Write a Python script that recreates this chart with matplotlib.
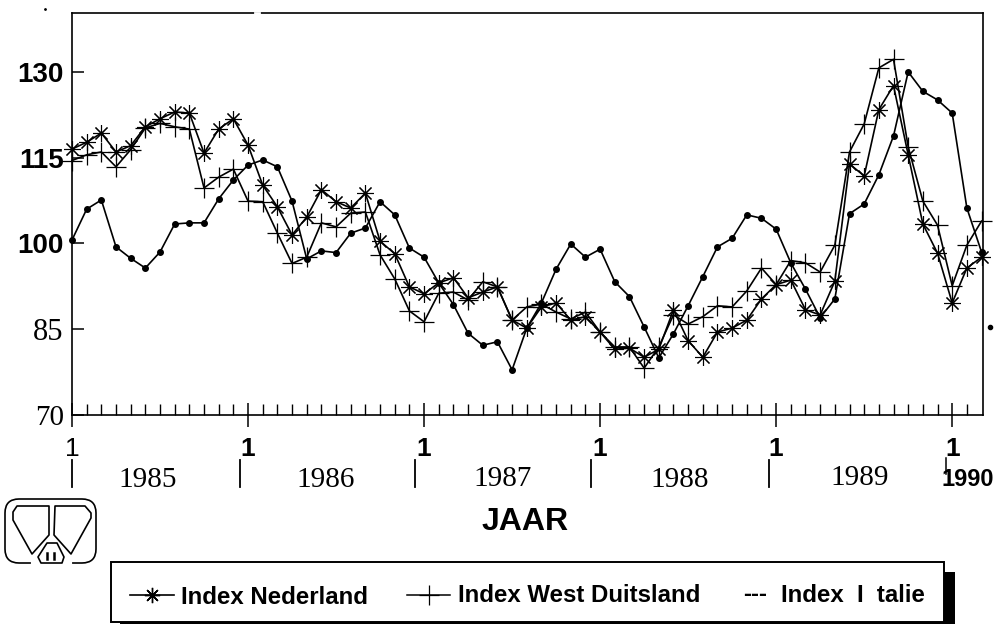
import matplotlib

matplotlib.use("Agg")
import matplotlib.pyplot as plt
from matplotlib.patches import FancyBboxPatch, Polygon, Rectangle

# values, one per month, Jan 1985 - Mar 1990
index_nederland = [
    116.5, 117.7, 119.3, 116.0, 117.1, 120.4, 121.8, 123.0, 122.8, 115.8, 120.0, 121.8,
    117.2, 110.2, 106.4, 101.5, 104.6, 109.4, 107.3, 106.2, 108.8, 100.4, 98.2, 92.4,
    91.2, 93.1, 94.0, 90.5, 91.5, 92.4, 86.6, 85.2, 88.9, 89.6, 86.6, 87.2,
    84.5, 81.5, 81.7, 80.1, 81.5, 88.4, 83.0, 80.1, 84.5, 85.2, 86.6, 90.3,
    92.8, 93.6, 88.4, 87.5, 93.4, 113.9, 111.8, 123.4, 127.6, 115.5, 103.4, 98.3,
    89.6, 95.7, 97.6,
]
index_west_duitsland = [
    114.5, 115.5, 116.0, 113.4, 116.4, 120.2, 121.0, 120.4, 120.0, 109.7, 111.6, 113.0,
    107.4, 107.3, 101.8, 96.5, 97.6, 103.6, 102.9, 105.3, 105.5, 98.0, 93.8, 88.2,
    86.3, 91.3, 91.5, 90.1, 93.3, 92.4, 86.6, 88.9, 89.4, 88.0, 86.8, 88.0,
    84.5, 81.9, 81.9, 78.2, 81.9, 87.5, 85.9, 87.2, 89.1, 88.9, 91.7, 95.7,
    92.8, 97.0, 96.6, 95.0, 99.7, 116.0, 120.9, 130.7, 132.2, 116.9, 107.4, 103.2,
    92.6, 99.7, 103.9,
]
index_italie = [
    100.6, 106.0, 107.6, 99.4, 97.4, 95.7, 98.5, 103.4, 103.6, 103.6, 107.8, 111.1,
    113.7, 114.6, 113.4, 107.4, 97.3, 98.7, 98.4, 101.8, 102.7, 107.3, 105.0, 99.2,
    97.6, 93.1, 89.3, 84.3, 82.2, 82.8, 77.9, 85.2, 89.6, 95.5, 99.9, 97.6,
    99.0, 93.3, 90.7, 85.4, 80.0, 84.2, 89.1, 94.2, 99.4, 100.9, 105.0, 104.4,
    102.5, 96.6, 92.0, 87.0, 90.3, 105.2, 106.9, 112.0, 118.8, 130.0, 126.6, 125.1,
    122.8, 106.2, 98.5,
]
months = list(range(len(index_nederland)))

y_ticks = [70, 85, 100, 115, 130]
y_label_sizes = [21, 22, 20, 20, 20]
jan_ticks = [0, 12, 24, 36, 48, 60]
jan_labels = ["1", "1", "1", "1", "1", "1"]
years = ["1985", "1986", "1987", "1988", "1989"]

W, H = 1001, 626
SERIF = "Liberation Serif"
SANS = "Liberation Sans"

fig = plt.figure(figsize=(W / 100, H / 100), dpi=100, facecolor="white")

# frame runs from x=72..983 and y=13..415 in pixels
ax = fig.add_axes([72 / W, 1 - 415 / H, (983 - 72) / W, (415 - 13) / H])
ax.set_xlim(0, 62.1)
ax.set_ylim(70, 140.3)

line_kw = dict(color="black", linewidth=1.2, clip_on=False)
ax.plot(months, index_italie, marker="o", markersize=4, **line_kw)
ax.plot(months, index_west_duitsland, marker="+", markersize=15, markeredgewidth=0.9, **line_kw)
ax.plot(months, index_nederland, marker=(8, 2, 0), markersize=12, markeredgewidth=0.8, **line_kw)

for s in ax.spines.values():
    s.set_linewidth(1.2)

ax.set_yticks(y_ticks)
ax.set_yticklabels([str(v) for v in y_ticks])
ax.tick_params(axis="y", direction="in", length=8.5, width=1.1, pad=6)
for lab, v, size in zip(ax.get_yticklabels(), y_ticks, y_label_sizes):
    lab.set_fontsize(size)
    if v >= 100:
        lab.set_fontfamily(SANS)
        lab.set_fontweight("bold")
    else:
        lab.set_fontfamily(SERIF)

ax.set_xticks(jan_ticks)
ax.set_xticklabels(jan_labels)
ax.set_xticks(months[:-1], minor=True)
ax.tick_params(axis="x", which="major", direction="inout", length=17, width=1.1, pad=7)
ax.tick_params(axis="x", which="minor", direction="in", length=8, width=1.0)
for i, lab in enumerate(ax.get_xticklabels()):
    lab.set_fontfamily(SANS)
    lab.set_fontsize(19)
    lab.set_fontweight("normal" if i == 0 else "bold")

# everything around the axes sits on a pixel overlay
ov = fig.add_axes([0, 0, 1, 1], zorder=3)
ov.set_xlim(0, W)
ov.set_ylim(H, 0)
ov.axis("off")
ov.patch.set_alpha(0)

for x, y, year in zip([148, 326, 503, 680, 860], [480, 480, 479, 480, 478], years):
    ov.text(x, y, year, family=SERIF, fontsize=21, ha="center", va="center")
ov.text(968, 480, "1990", family=SANS, fontsize=17, fontweight="bold", ha="center", va="center")

for x in [72, 240, 415, 591, 769]:
    ov.plot([x, x], [460, 487], color="black", lw=1.3)
ov.plot([946, 946], [458, 474], color="black", lw=1.1)

ov.text(525, 522, "JAAR", family=SANS, fontsize=23, fontweight="bold", ha="center", va="center")

# legend box with its heavy shadow
ov.add_patch(Rectangle((120, 572), 835, 52, facecolor="black", edgecolor="none"))
ov.add_patch(Rectangle((111, 562), 833, 60, facecolor="white", edgecolor="black", lw=1.4))
ov.plot([130, 174], [595, 595], color="black", lw=1.2)
ov.plot([152], [595], color="black", marker=(8, 2, 0), markersize=11, markeredgewidth=1.0)
ov.plot([407, 450], [595, 595], color="black", lw=1.1)
ov.plot([429], [595], color="black", marker="+", markersize=14, markeredgewidth=0.9)
legend_kw = dict(family=SANS, fontsize=17.3, fontweight="bold", ha="left", va="center")
ov.text(181, 597, "Index Nederland", **legend_kw)
ov.text(458, 596, "Index West Duitsland", **legend_kw)
ov.text(743, 595, "---", **legend_kw)
ov.text(781, 595, "Index  I  talie", **legend_kw)

# logo bottom left
logo_kw = dict(facecolor="white", edgecolor="black", lw=1.2, joinstyle="round", zorder=2)
ov.add_patch(FancyBboxPatch((15, 509), 71, 44, boxstyle="round,pad=10,rounding_size=14",
                            facecolor="white", edgecolor="black", lw=1.2, zorder=1))
ov.plot([33, 70], [563, 563], color="white", lw=3, zorder=1.5)
ov.add_patch(Polygon([(17, 506), (49, 506), (49, 535), (32, 554), (13, 520), (13, 512)], **logo_kw))
ov.add_patch(Polygon([(55, 506), (85, 506), (91, 513), (91, 518), (71, 554), (54, 535)], **logo_kw))
ov.add_patch(Polygon([(47, 543), (57, 543), (64, 557), (62, 563), (41, 563), (38, 557)], **logo_kw))
ov.plot([47, 47], [553, 559], color="black", lw=1.8, zorder=3)
ov.plot([54, 54], [553, 559], color="black", lw=1.8, zorder=3)

# scan specks
ov.plot([255, 259], [13, 13], color="white", lw=2)
ov.plot([990], [327], color="black", marker="o", markersize=3)
ov.plot([45], [9], color="black", marker="o", markersize=1)

fig.savefig("out.png", dpi=100)
plt.close(fig)
